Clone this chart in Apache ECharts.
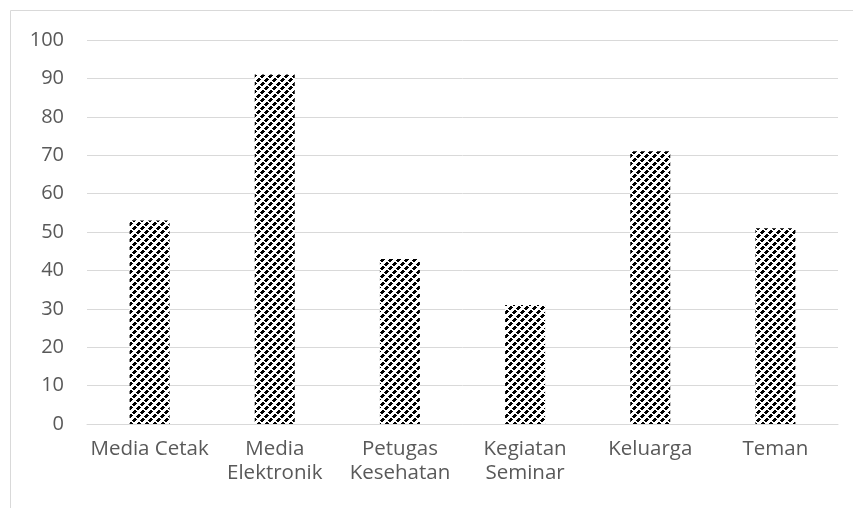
<!DOCTYPE html>
<html>
<head>
<meta charset="utf-8">
<script src="https://cdn.jsdelivr.net/npm/echarts@6/dist/echarts.min.js"></script>
<style>
  html, body { margin: 0; padding: 0; background: #fff; }
  #chart { width: 853px; height: 508px; }
</style>
</head>
<body>
<div id="chart"></div>
<script>
const categories = ['Media Cetak', 'Media\nElektronik', 'Petugas\nKesehatan', 'Kegiatan\nSeminar', 'Keluarga', 'Teman'];
const values = [53, 91, 43, 31, 71, 51];
const yTicks = { min: 0, max: 100, interval: 10 };

// small black/white tile for the hatched bars (broken upward diagonals)
function makeTile() {
  const c = document.createElement('canvas');
  c.width = 8;
  c.height = 8;
  const ctx = c.getContext('2d');
  ctx.fillStyle = '#fff';
  ctx.fillRect(0, 0, 8, 8);
  ctx.fillStyle = '#000';
  for (let y = 0; y < 8; y++) {
    for (let x = 0; x < 8; x++) {
      if ((x + y) % 8 < 4 && (x - y + 16) % 8 < 6) ctx.fillRect(x, y, 1, 1);
    }
  }
  return c;
}

const font = '"Open Sans", sans-serif';
const chart = echarts.init(document.getElementById('chart'));
chart.setOption({
  animation: false,
  graphic: [{
    type: 'rect',
    shape: { x: 10.5, y: 10.5, width: 900, height: 600 },
    style: { fill: 'none', stroke: '#d9d9d9', lineWidth: 1 },
    silent: true
  }],
  grid: { left: 87, right: 15, top: 40, bottom: 84 },
  xAxis: {
    type: 'category',
    data: categories,
    axisLine: { lineStyle: { color: '#d9d9d9' } },
    axisTick: { show: false },
    axisLabel: { color: '#595959', fontSize: 20.5, fontFamily: font, margin: 13, lineHeight: 24, interval: 0 }
  },
  yAxis: {
    type: 'value',
    min: yTicks.min,
    max: yTicks.max,
    interval: yTicks.interval,
    axisLine: { show: false },
    axisTick: { show: false },
    splitLine: { lineStyle: { color: '#d9d9d9' } },
    axisLabel: { color: '#595959', fontSize: 20, fontFamily: font, margin: 23 }
  },
  series: [{
    type: 'bar',
    data: values,
    barWidth: 40,
    itemStyle: { color: { image: makeTile(), repeat: 'repeat' } }
  }]
});
</script>
</body>
</html>
